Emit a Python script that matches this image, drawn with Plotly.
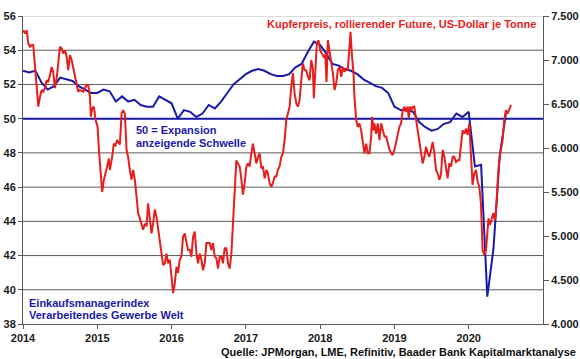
import plotly.graph_objects as go

# Global manufacturing PMI (monthly, Jan 2014 - Jul 2020)
pmi_start_year = 2014
pmi_values = [
    52.8, 52.7, 52.8, 52.1, 51.7, 51.9, 52.4, 52.3, 52.2, 51.9, 51.7, 51.5,   # 2014
    51.5, 51.7, 51.6, 51.0, 51.3, 51.0, 51.1, 50.8, 50.7, 50.7, 51.3, 51.1,   # 2015
    50.9, 50.0, 50.5, 50.4, 50.1, 50.3, 50.8, 50.6, 51.0, 51.5, 52.0, 52.3,   # 2016
    52.6, 52.8, 52.9, 52.8, 52.6, 52.5, 52.5, 52.6, 53.0, 53.2, 53.9, 54.5,   # 2017
    54.3, 53.8, 53.2, 53.1, 52.9, 52.8, 52.6, 52.3, 52.1, 51.9, 51.8, 51.5,   # 2018
    50.7, 50.5, 50.5, 50.4, 49.8, 49.5, 49.3, 49.4, 49.7, 49.8, 50.3, 50.1,   # 2019
    50.4, 47.2, 47.3, 39.6, 42.4, 47.8, 50.3,                                 # 2020
]
pmi_time = [pmi_start_year + i / 12 for i in range(len(pmi_values))]

# Copper price, rolling future, USD per tonne (time as decimal year)
copper_time = [
    2014.004, 2014.027, 2014.050, 2014.071, 2014.094, 2014.117, 2014.138, 2014.161, 2014.184, 2014.206,
    2014.228, 2014.251, 2014.273, 2014.296, 2014.319, 2014.340, 2014.363, 2014.386, 2014.407, 2014.430,
    2014.453, 2014.474, 2014.497, 2014.520, 2014.542, 2014.565, 2014.587, 2014.609, 2014.632, 2014.655,
    2014.676, 2014.699, 2014.722, 2014.743, 2014.766, 2014.810, 2014.856, 2014.878, 2014.901, 2014.914,
    2014.931, 2014.954, 2014.977, 2015.004, 2015.022, 2015.044, 2015.066, 2015.089, 2015.112, 2015.133,
    2015.156, 2015.169, 2015.200, 2015.223, 2015.246, 2015.267, 2015.304, 2015.327, 2015.348, 2015.371,
    2015.394, 2015.415, 2015.438, 2015.461, 2015.483, 2015.505, 2015.528, 2015.550, 2015.573, 2015.595,
    2015.617, 2015.640, 2015.663, 2015.684, 2015.707, 2015.730, 2015.751, 2015.774, 2015.797, 2015.819,
    2015.841, 2015.864, 2015.886, 2015.909, 2015.931, 2015.953, 2015.976, 2015.999, 2016.020, 2016.043,
    2016.066, 2016.087, 2016.110, 2016.133, 2016.155, 2016.177, 2016.200, 2016.222, 2016.245, 2016.267,
    2016.289, 2016.312, 2016.335, 2016.356, 2016.379, 2016.402, 2016.423, 2016.446, 2016.469, 2016.491,
    2016.513, 2016.536, 2016.558, 2016.581, 2016.603, 2016.625, 2016.648, 2016.671, 2016.692, 2016.715,
    2016.738, 2016.759, 2016.782, 2016.805, 2016.827, 2016.849, 2016.872, 2016.894, 2016.917, 2016.940,
    2016.961, 2016.984, 2017.007, 2017.028, 2017.051, 2017.074, 2017.095, 2017.118, 2017.141, 2017.163,
    2017.185, 2017.208, 2017.230, 2017.253, 2017.276, 2017.297, 2017.320, 2017.343, 2017.364, 2017.387,
    2017.410, 2017.431, 2017.454, 2017.477, 2017.499, 2017.522, 2017.544, 2017.566, 2017.589, 2017.612,
    2017.633, 2017.656, 2017.679, 2017.700, 2017.723, 2017.746, 2017.767, 2017.790, 2017.813, 2017.835,
    2017.858, 2017.880, 2017.902, 2017.915, 2017.934, 2017.956, 2017.978, 2018.001, 2018.023, 2018.046,
    2018.069, 2018.086, 2018.104, 2018.126, 2018.149, 2018.171, 2018.194, 2018.216, 2018.238, 2018.261,
    2018.284, 2018.305, 2018.328, 2018.351, 2018.372, 2018.395, 2018.409, 2018.426, 2018.449, 2018.462,
    2018.485, 2018.507, 2018.530, 2018.552, 2018.574, 2018.597, 2018.620, 2018.641, 2018.664, 2018.687,
    2018.700, 2018.718, 2018.731, 2018.754, 2018.776, 2018.798, 2018.821, 2018.843, 2018.866, 2018.888,
    2018.910, 2018.933, 2018.956, 2018.977, 2019.000, 2019.023, 2019.044, 2019.067, 2019.090, 2019.112,
    2019.134, 2019.157, 2019.179, 2019.192, 2019.211, 2019.233, 2019.246, 2019.269, 2019.292, 2019.313,
    2019.336, 2019.359, 2019.380, 2019.403, 2019.426, 2019.448, 2019.470, 2019.493, 2019.515, 2019.538,
    2019.560, 2019.582, 2019.605, 2019.628, 2019.649, 2019.672, 2019.695, 2019.716, 2019.739, 2019.762,
    2019.784, 2019.806, 2019.829, 2019.851, 2019.874, 2019.896, 2019.918, 2019.941, 2019.964, 2019.985,
    2020.008, 2020.022, 2020.039, 2020.052, 2020.075, 2020.098, 2020.120, 2020.142, 2020.165, 2020.179,
    2020.187, 2020.210, 2020.233, 2020.254, 2020.267, 2020.286, 2020.308, 2020.331, 2020.353, 2020.375,
    2020.394, 2020.411, 2020.434, 2020.456, 2020.478, 2020.501, 2020.523, 2020.546, 2020.569,
]
copper_usd = [
    7340, 7300, 7340, 7190, 7150, 7170, 7170, 6960, 6700, 6470,
    6580, 6660, 6640, 6680, 6770, 6750, 6830, 6920, 6860, 6680,
    6790, 6965, 7150, 7130, 7075, 7110, 7040, 6885, 7056, 7000,
    6920, 6830, 6715, 6640, 6660, 6640, 6715, 6715, 6580, 6355,
    6450, 6470, 6320, 6240, 5980, 5670, 5500, 5640, 5710, 5790,
    5880, 5750, 5900, 6050, 6030, 6090, 6040, 6390, 6430, 6390,
    5980, 5900, 5750, 5640, 5750, 5640, 5450, 5260, 5200, 5140,
    5070, 5140, 5110, 5370, 5220, 5030, 5140, 5300, 5220, 5070,
    4920, 4765, 4670, 4690, 4800, 4690, 4730, 4540, 4350, 4460,
    4650, 4580, 4730, 4770, 4990, 5030, 4920, 4840, 4840, 4765,
    4990, 5050, 4800, 4690, 4800, 4730, 4610, 4690, 4920, 4920,
    4920, 4840, 4920, 4765, 4750, 4630, 4765, 4765, 4690, 4860,
    4860, 4690, 4630, 4800, 5140, 5520, 5860, 5820, 5790, 5640,
    5470, 5600, 5790, 5825, 5790, 5940, 6050, 5940, 5825, 5900,
    5940, 5770, 5790, 5655, 5750, 5710, 5600, 5560, 5600, 5675,
    5675, 5750, 5790, 5900, 5940, 6090, 6320, 6390, 6470, 6700,
    6850, 6620, 6510, 6470, 6545, 6770, 6960, 6890, 6880, 6810,
    6770, 7000, 6900, 6565, 6810, 7190, 7225, 7110, 7075, 7040,
    7060, 6750, 7225, 7110, 7000, 6850, 6660, 6735, 6885, 6920,
    6810, 6920, 6865, 6900, 6885, 7110, 7320, 7075, 6850, 6580,
    6320, 6240, 6280, 6200, 6090, 5940, 6050, 5940, 5940, 6130,
    6355, 6200, 6280, 6160, 6280, 6090, 6280, 6200, 6130, 6130,
    6050, 5980, 5940, 5920, 5980, 6070, 6130, 6240, 6280, 6430,
    6470, 6410, 6470, 6340, 6470, 6430, 6470, 6470, 6320, 6200,
    6070, 5940, 5825, 5900, 6015, 5940, 5900, 5980, 6070, 5940,
    5750, 5710, 5640, 5710, 5980, 5900, 5790, 5655, 5825, 5790,
    5900, 5900, 5840, 5860, 5860, 6070, 6200, 6160, 6220, 6150,
    6280, 6050, 5790, 5580, 5710, 5750, 5620, 5560, 5370, 4990,
    4840, 4785, 4840, 5070, 5200, 5125, 5180, 5260, 5180, 5370,
    5675, 5860, 5980, 6090, 6320, 6430, 6390, 6450, 6490,
]

year_ticks = [2014, 2015, 2016, 2017, 2018, 2019, 2020]
year_labels = ["2014", "2015", "2016", "2017", "2018", "2019", "2020"]
pmi_ticks = [38, 40, 42, 44, 46, 48, 50, 52, 54, 56]
copper_ticks = [4000, 4500, 5000, 5500, 6000, 6500, 7000, 7500]
threshold = 50

BLUE = "#1a1aa8"
RED = "#e61e1e"
GRID = "#5a5a5a"
FONT = "Liberation Sans"

fig = go.Figure()

# horizontal gridlines at the left-axis ticks
for v in pmi_ticks[1:]:
    fig.add_shape(type="line", xref="paper", x0=0, x1=1, yref="y", y0=v, y1=v,
                  line=dict(color=GRID if v < 56 else "#b8b8b8", width=1), layer="below")

fig.add_trace(go.Scatter(
    x=copper_time, y=copper_usd, yaxis="y2", mode="lines",
    line=dict(color=RED, width=2), name="Kupferpreis", hoverinfo="skip",
))
fig.add_trace(go.Scatter(
    x=[2014, 2021], y=[threshold, threshold], mode="lines",
    line=dict(color=BLUE, width=2), name="50", hoverinfo="skip",
))
fig.add_trace(go.Scatter(
    x=pmi_time, y=pmi_values, mode="lines",
    line=dict(color=BLUE, width=2), name="PMI", hoverinfo="skip",
))

tick_font = dict(family=FONT, size=11, color="#1a1a1a", weight="bold")

fig.update_layout(
    width=580, height=359,
    margin=dict(l=23, r=37, t=16, b=35, autoexpand=False),
    paper_bgcolor="white", plot_bgcolor="white",
    showlegend=False,
    separators=",.",
    font=dict(family=FONT),
    xaxis=dict(
        range=[2014, 2021], tickvals=year_ticks, ticktext=year_labels,
        showgrid=False, zeroline=False, automargin=False,
        showline=True, linecolor=GRID, linewidth=1,
        ticks="outside", ticklen=4, tickcolor=GRID,
        tickfont=tick_font,
    ),
    yaxis=dict(
        range=[38, 56], tickvals=pmi_ticks,
        showgrid=False, zeroline=False, automargin=False,
        showline=True, linecolor=GRID, linewidth=1,
        ticks="outside", ticklen=4, tickcolor=GRID,
        tickfont=tick_font,
    ),
    yaxis2=dict(
        range=[4000, 7500], tickvals=copper_ticks, tickformat=",.0f",
        overlaying="y", side="right",
        showgrid=False, zeroline=False, automargin=False,
        showline=True, linecolor=GRID, linewidth=1,
        ticks="outside", ticklen=5, tickcolor=GRID,
        tickfont=tick_font,
    ),
)

label_font_blue = dict(family=FONT, size=11, color=BLUE, weight="bold")
annotations = [
    dict(text="Kupferpreis, rollierender Future, US-Dollar je Tonne",
         xref="paper", yref="paper", x=0.99, y=0.974, xanchor="right", yanchor="middle",
         showarrow=False, font=dict(family=FONT, size=11, color=RED, weight="bold")),
    dict(text="50 = Expansion", xref="x", yref="y", x=2015.49, y=49.33,
         xanchor="left", yanchor="middle", showarrow=False, font=label_font_blue),
    dict(text="anzeigende Schwelle", xref="x", yref="y", x=2015.49, y=48.57,
         xanchor="left", yanchor="middle", showarrow=False, font=label_font_blue),
    dict(text="Einkaufsmanagerindex", xref="x", yref="y", x=2014.06, y=39.24,
         xanchor="left", yanchor="middle", showarrow=False, font=label_font_blue),
    dict(text="Verarbeitendes Gewerbe Welt", xref="x", yref="y", x=2014.06, y=38.54,
         xanchor="left", yanchor="middle", showarrow=False, font=label_font_blue),
    dict(text="Quelle: JPMorgan, LME, Refinitiv, Baader Bank Kapitalmarktanalyse",
         xref="paper", yref="paper", x=1.067, y=-0.09, xanchor="right", yanchor="middle",
         showarrow=False, font=dict(family=FONT, size=11, color="#111111", weight="bold")),
]
fig.update_layout(annotations=annotations)

fig.write_html(
    "out.html",
    config={"displayModeBar": False, "staticPlot": True},
    post_script="document.body.style.margin='0';document.body.style.padding='0';",
)
